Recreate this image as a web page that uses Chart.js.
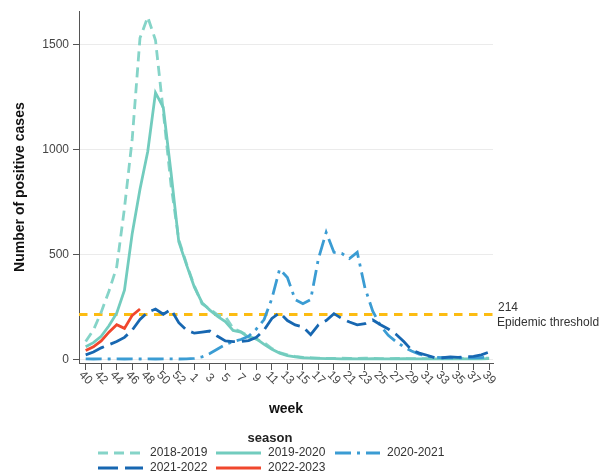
<!DOCTYPE html>
<html>
<head>
<meta charset="utf-8">
<script src="https://cdn.jsdelivr.net/npm/chart.js@4/dist/chart.umd.min.js"></script>
<style>
  html, body { margin: 0; padding: 0; background: #ffffff; }
  #wrap { width: 603px; height: 472px; }
</style>
</head>
<body>
<div id="wrap"><canvas id="c" width="603" height="472"></canvas></div>
<script>
// Surveillance weeks, week 40 through week 39 of the following year
const weeks = [40, 41, 42, 43, 44, 45, 46, 47, 48, 49, 50, 51, 52, 53,
  1, 2, 3, 4, 5, 6, 7, 8, 9, 10, 11, 12, 13, 14, 15, 16, 17, 18, 19, 20,
  21, 22, 23, 24, 25, 26, 27, 28, 29, 30, 31, 32, 33, 34, 35, 36, 37, 38, 39];

const seasons = ['2018-2019', '2019-2020', '2020-2021', '2021-2022', '2022-2023'];

// Weekly positive cases per season
const cases2018 = [85, 140, 225, 325, 440, 720, 1050, 1530, 1630, 1520, 1180, 830, 570, 455,
  350, 265, 240, 212, 205, 148, 132, 110, 97, 80, 52, 32, 22, 14, 10, 8, 6, 5, 5, 6, 5, 5, 6,
  5, 4, 4, 5, 4, 4, 4, 4, 5, 4, 4, 5, 4, 4, 5, 6];
const cases2019 = [60, 80, 110, 160, 220, 330, 600, 810, 990, 1270, 1200, 890, 560, 450,
  345, 270, 235, 205, 180, 138, 130, 106, 98, 72, 48, 30, 18, 12, 8, 6, 5, 4, 4, 3, 4, 3, 3,
  4, 3, 3, 3, 4, 3, 3, 3, 3, 3, 4, 3, 3, 4, 3, 4];
const cases2020 = [3, 2, 3, 2, 3, 2, 3, 2, 3, 2, 3, 3, 2, 3, 5, 12, 28, 50, 70, 85, 95, 110,
  145, 190, 290, 430, 390, 285, 265, 285, 480, 605, 510, 505, 480, 510, 340, 230, 160, 115,
  85, 60, 40, 25, 15, 10, 8, 8, 7, 8, 8, 9, 10];
const cases2021 = [22, 35, 55, 70, 85, 105, 140, 190, 225, 240, 215, 238, 175, 140, 125,
  130, 135, 110, 88, 85, 85, 90, 105, 140, 195, 222, 185, 164, 155, 118, 165, 185, 218, 195,
  178, 165, 170, 188, 165, 145, 120, 85, 45, 30, 20, 8, 8, 12, 10, 12, 15, 22, 35];
const cases2022 = [42, 60, 88, 130, 165, 148, 210, 240];

const THRESHOLD = 214;
const thresholdLabel = ['214', 'Epidemic threshold'];
const yTicks = [0, 500, 1000, 1500];
const xTickIdx = weeks.map((w, i) => i).filter(i => i % 2 === 0);

const FONT = '"Liberation Sans", Arial, Helvetica, sans-serif';

const styles = [
  { color: '#85d4c8', dash: [10, 6] },
  { color: '#72ccbe', dash: [] },
  { color: '#3b9cd3', dash: [16, 6, 3, 6] },
  { color: '#1767b1', dash: [20, 7] },
  { color: '#f0472d', dash: [] }
];
const series = [cases2018, cases2019, cases2020, cases2021, cases2022];

const datasets = series.map((vals, s) => ({
  label: seasons[s],
  data: vals.map((v, i) => ({ x: i, y: v })),
  borderColor: styles[s].color,
  borderDash: styles[s].dash,
  borderWidth: 2.8,
  pointRadius: 0,
  tension: 0,
  fill: false,
  order: series.length - 1 - s
}));

const extras = {
  id: 'extras',
  beforeDatasetsDraw(chart) {
    const { ctx, chartArea, scales } = chart;
    const y = scales.y.getPixelForValue(THRESHOLD);
    ctx.save();
    ctx.strokeStyle = '#fcbc12';
    ctx.lineWidth = 3;
    ctx.setLineDash([8.5, 6.5]);
    ctx.beginPath();
    ctx.moveTo(chartArea.left, y);
    ctx.lineTo(chartArea.right, y);
    ctx.stroke();
    ctx.restore();
  },
  afterDraw(chart) {
    const { ctx, chartArea, scales } = chart;
    ctx.save();
    // week labels, turned 45 degrees clockwise under each tick
    ctx.font = '12px ' + FONT;
    ctx.fillStyle = '#4a4a4a';
    ctx.textAlign = 'center';
    ctx.textBaseline = 'middle';
    scales.x.ticks.forEach(t => {
      const x = scales.x.getPixelForValue(t.value);
      ctx.save();
      ctx.translate(x, chartArea.bottom + 15);
      ctx.rotate(Math.PI / 4);
      ctx.fillText(String(weeks[t.value]), 0, 0);
      ctx.restore();
    });

    // threshold annotation
    const ty = scales.y.getPixelForValue(THRESHOLD);
    ctx.fillStyle = '#333333';
    ctx.textAlign = 'left';
    ctx.font = '12px ' + FONT;
    ctx.fillText(thresholdLabel[0], chartArea.right + 5, ty - 7);
    ctx.fillText(thresholdLabel[1], chartArea.right + 4, ty + 8);

    // legend
    ctx.fillStyle = '#222222';
    ctx.textAlign = 'center';
    ctx.font = 'bold 13px ' + FONT;
    ctx.fillText('season', 270, 438);
    const cols = [98, 216, 335];
    const rows = [453, 468];
    ctx.font = '12px ' + FONT;
    ctx.textAlign = 'left';
    seasons.forEach((name, s) => {
      const cx = cols[s % 3];
      const cy = rows[Math.floor(s / 3)];
      ctx.strokeStyle = styles[s].color;
      ctx.lineWidth = 3;
      ctx.setLineDash(styles[s].dash);
      ctx.beginPath();
      ctx.moveTo(cx, cy);
      ctx.lineTo(cx + 45, cy);
      ctx.stroke();
      ctx.setLineDash([]);
      ctx.fillStyle = '#333333';
      ctx.fillText(name, cx + 52, cy);
    });
    ctx.restore();
  }
};

new Chart(document.getElementById('c'), {
  type: 'line',
  data: { datasets },
  options: {
    responsive: false,
    animation: false,
    devicePixelRatio: 1,
    layout: { padding: { top: 10, right: 110, bottom: 0, left: 0 } },
    plugins: { legend: { display: false }, tooltip: { enabled: false } },
    scales: {
      x: {
        type: 'linear',
        min: -0.86,
        max: 52.5,
        afterBuildTicks: s => { s.ticks = xTickIdx.map(v => ({ value: v })); },
        afterFit: s => { s.height = 109; },
        ticks: { display: false },
        grid: { drawOnChartArea: false, drawTicks: true, tickLength: 7, tickColor: '#555555', lineWidth: 1 },
        border: { display: true, color: '#555555', width: 1 },
        title: {
          display: true,
          text: 'week',
          color: '#111111',
          font: { family: FONT, size: 14, weight: 'bold' },
          padding: { top: 0, bottom: 54 }
        }
      },
      y: {
        min: -17,
        max: 1658,
        afterBuildTicks: s => { s.ticks = yTicks.map(v => ({ value: v })); },
        afterFit: s => { s.width = 79; },
        ticks: {
          color: '#444444',
          font: { family: FONT, size: 12 },
          padding: 4,
          callback: v => String(v)
        },
        grid: { color: '#ebebeb', lineWidth: 1, drawTicks: true, tickLength: 6, tickColor: '#555555' },
        border: { display: true, color: '#555555', width: 1 },
        title: {
          display: true,
          text: 'Number of positive cases',
          color: '#111111',
          font: { family: FONT, size: 14, weight: 'bold' },
          padding: { top: 12, bottom: 0 }
        }
      }
    }
  },
  plugins: [extras]
});
</script>
</body>
</html>
